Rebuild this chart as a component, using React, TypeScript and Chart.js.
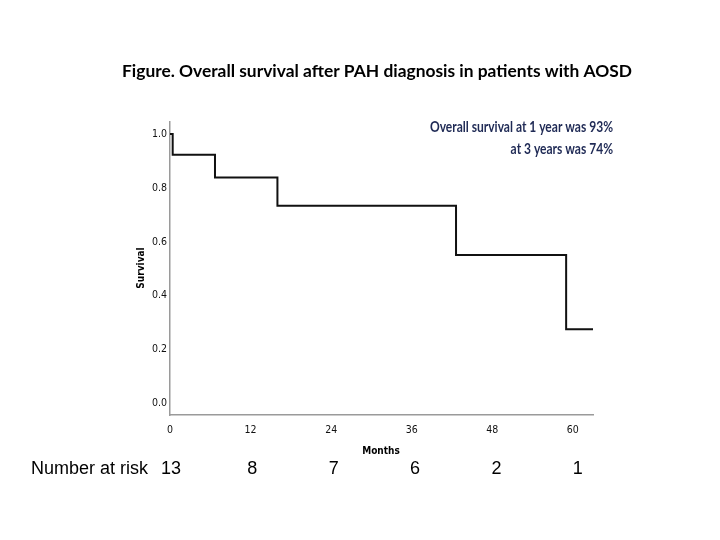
import React, { useEffect, useRef } from "react";
import { Chart, registerables } from "chart.js";

Chart.register(...registerables);

const months = [0, 0.4, 6.7, 16.0, 42.6, 59.0, 63.0];
const survival = [1.0, 0.923, 0.839, 0.734, 0.551, 0.275, 0.275];
const xTicks = [0, 12, 24, 36, 48, 60];
const yTicks = [0, 0.2, 0.4, 0.6, 0.8, 1.0];
const atRisk = [13, 8, 7, 6, 2, 1];

const titleText = "Figure. Overall survival after PAH diagnosis in patients with AOSD";
const noteLines = ["Overall survival at 1 year was 93%", "at 3 years was 74%"];
const narrow = '"Liberation Sans Narrow", "DejaVu Sans Condensed", "Liberation Sans", sans-serif';

function fitText(ctx: any, text: string, x: number, y: number, width: number, align: string) {
  const w = ctx.measureText(text).width;
  const s = w > width ? width / w : 1;
  ctx.save();
  ctx.translate(x, y);
  ctx.scale(s, 1);
  ctx.textAlign = align;
  ctx.fillText(text, 0, 0);
  ctx.restore();
}

const textPlugin = {
  id: "kmText",
  afterDraw(chart: any) {
    const ctx = chart.ctx;
    const xs = chart.scales.x;
    ctx.save();
    ctx.fillStyle = "#000";
    ctx.textBaseline = "middle";
    ctx.font = 'bold 17.4px Lato, "Open Sans", sans-serif';
    fitText(ctx, titleText, 377, 71, 510, "center");

    ctx.fillStyle = "#1f2a55";
    ctx.font = 'bold 14.5px Lato, "Open Sans", sans-serif';
    const w0 = ctx.measureText(noteLines[0]).width;
    const s = 183 / w0;
    ctx.save();
    ctx.translate(613, 0);
    ctx.scale(s, 1);
    ctx.textAlign = "right";
    ctx.fillText(noteLines[0], 0, 127);
    ctx.fillText(noteLines[1], 0, 149);
    ctx.restore();

    ctx.fillStyle = "#000";
    ctx.textAlign = "center";
    ctx.font = "bold 10px " + narrow;
    ctx.fillText("Months", 381, 451);
    ctx.save();
    ctx.translate(141, 268);
    ctx.rotate(-Math.PI / 2);
    ctx.fillText("Survival", 0, 0);
    ctx.restore();

    ctx.font = '18px "Liberation Sans", Arial, sans-serif';
    ctx.textAlign = "left";
    ctx.fillText("Number at risk", 31, 469);
    ctx.textAlign = "center";
    atRisk.forEach((n, i) => {
      ctx.fillText(String(n), xs.getPixelForValue(xTicks[i]) + 1 + i * 0.8, 469);
    });
    ctx.restore();
  },
};

export default function App() {
  const ref = useRef<HTMLCanvasElement | null>(null);
  useEffect(() => {
    if (!ref.current) return;
    const chart = new Chart(ref.current, {
      type: "line",
      data: {
        datasets: [
          {
            data: months.map((m, i) => ({ x: m, y: survival[i] })),
            borderColor: "#111",
            borderWidth: 2,
            pointRadius: 0,
            stepped: "before",
            fill: false,
          },
        ],
      },
      options: {
        animation: false,
        responsive: false,
        layout: { padding: { left: 125, right: 127, top: 122, bottom: 85 } },
        plugins: { legend: { display: false }, tooltip: { enabled: false } },
        scales: {
          x: {
            type: "linear",
            min: 0,
            max: 63,
            grid: { display: false, drawTicks: false },
            border: { display: true, color: "#9a9a9a", width: 1.5 },
            afterBuildTicks: (s: any) => {
              s.ticks = xTicks.map((v) => ({ value: v }));
            },
            afterFit: (s: any) => {
              s.height = 40;
            },
            ticks: {
              padding: 9,
              color: "#111",
              font: { family: narrow, size: 10.5 },
              maxRotation: 0,
              callback: (v: any) => String(v),
            },
          },
          y: {
            type: "linear",
            min: -0.043,
            max: 1.045,
            grid: { display: false, drawTicks: false },
            border: { display: true, color: "#9a9a9a", width: 1.5 },
            afterBuildTicks: (s: any) => {
              s.ticks = yTicks.map((v) => ({ value: v }));
            },
            afterFit: (s: any) => {
              s.width = 45;
            },
            ticks: {
              padding: 3,
              color: "#111",
              font: { family: narrow, size: 10.5 },
              callback: (v: any) => Number(v).toFixed(1),
            },
          },
        },
      },
      plugins: [textPlugin],
    });
    return () => chart.destroy();
  }, []);
  return (
    <div style={{ position: "absolute", left: 0, top: 0, width: 720, height: 540, background: "#fff" }}>
      <canvas ref={ref} width={720} height={540} style={{ width: 720, height: 540 }} />
    </div>
  );
}
